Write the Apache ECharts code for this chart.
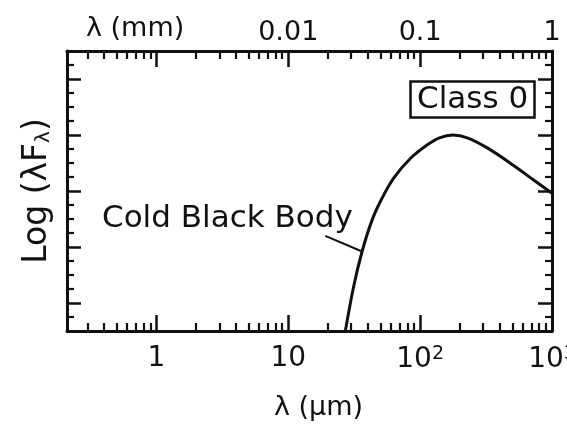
<!DOCTYPE html>
<html>
<head>
<meta charset="utf-8">
<script src="https://cdn.jsdelivr.net/npm/echarts@6/dist/echarts.min.js"></script>
<style>
html,body{margin:0;padding:0;background:#fff;}
#chart{width:567px;height:427px;}
</style>
</head>
<body>
<div id="chart"></div>
<script>
// ---- data ----
const lambdaMicron = [27.1, 31.3, 36.3, 43.2, 51.4, 63.0, 84.3, 112.8, 140, 178, 228, 323, 509, 721, 1000];
const logLambdaF   = [-0.5, 0.29, 0.92, 1.48, 1.87, 2.23, 2.58, 2.82, 2.95, 3.0, 2.95, 2.77, 2.46, 2.20, 1.96];

const xMinMicron = 0.21;
const xMaxMicron = 1000;
const yMin = -0.5;
const yMax = 4.5;

const bottomTickValues = [1, 10, 100, 1000];
const bottomTickLabels = ['1', '10', '10{sup|2}', '10{sup|3}'];
const topTickValues = [0.01, 0.1, 1];
const topTickLabels = ['0.01', '0.1', '1'];
const yMajorTicks = [0, 1, 2, 3, 4];
const yMinorTicks = [-0.25, 0.25, 0.5, 0.75, 1.25, 1.5, 1.75, 2.25, 2.5, 2.75, 3.25, 3.5, 3.75, 4.25];

const leaderStart = [19.1, 1.2];
const leaderEnd = [36.3, 0.92];

const curveName = 'Cold Black Body';
const classLabel = 'Class 0';

// ---- axis tick helpers ----
function decadeMajors(lo, hi) {
  const out = [];
  for (let e = -6; e <= 6; e++) {
    const v = Math.pow(10, e);
    if (v >= lo * 0.999 && v <= hi * 1.001) out.push(v);
  }
  return out;
}
function decadeMinors(lo, hi) {
  const out = [];
  for (let e = -6; e <= 6; e++) {
    for (let m = 2; m <= 9; m++) {
      const v = m * Math.pow(10, e);
      if (v >= lo && v <= hi) out.push(v);
    }
  }
  return out;
}

const INK = '#111111';
const FONT = 'DejaVu Sans';

const chart = echarts.init(document.getElementById('chart'), null, {renderer: 'canvas'});

const lineData = lambdaMicron.map((l, i) => [l, logLambdaF[i]]);

function xAx(opts) {
  const base = {
    type: 'log', logBase: 10, gridIndex: 0,
    splitLine: {show: false},
    axisLabel: {show: false},
    axisTick: {show: false}
  };
  const o = Object.assign(base, opts);
  o.axisLine = Object.assign({show: false, onZero: false}, opts.axisLine || {});
  o.axisLine.onZero = false;
  return o;
}
function yAx(opts) {
  const base = {
    type: 'value', gridIndex: 0, min: yMin, max: yMax,
    splitLine: {show: false},
    axisLabel: {show: false},
    axisTick: {show: false}
  };
  const o = Object.assign(base, opts);
  o.axisLine = Object.assign({show: false, onZero: false}, opts.axisLine || {});
  o.axisLine.onZero = false;
  return o;
}

const option = {
  backgroundColor: '#ffffff',
  animation: false,
  textStyle: {fontFamily: FONT, color: INK},
  grid: {left: 67, right: 15, top: 51, bottom: 96, containLabel: false, outerBoundsMode: 'none'},
  title: [
    {text: 'λ (mm)', left: 86, top: 15, padding: 0,
     textStyle: {fontFamily: FONT, fontSize: 27, fontWeight: 'normal', color: INK}},
    {text: curveName, left: 102, top: 203, padding: 0,
     textStyle: {fontFamily: FONT, fontSize: 31, fontWeight: 'normal', color: INK}},
    {text: classLabel, left: 410, top: 81, padding: [3, 7, 2, 7],
     borderColor: INK, borderWidth: 2.5,
     textStyle: {fontFamily: FONT, fontSize: 31, lineHeight: 32, fontWeight: 'normal', color: INK}}
  ],
  xAxis: [
    xAx({
      position: 'bottom', min: xMinMicron, max: xMaxMicron,
      name: 'λ (µm)', nameLocation: 'middle', nameGap: 63,
      nameTextStyle: {fontFamily: FONT, fontSize: 27, color: INK, padding: [0, 0, 0, 18]},
      axisLine: {show: true, lineStyle: {color: INK, width: 3}},
      axisTick: {show: true, inside: true, length: 16, lineStyle: {color: INK, width: 2.5},
                 customValues: decadeMajors(xMinMicron, xMaxMicron)},
      axisLabel: {show: true, margin: 14, fontFamily: FONT, fontSize: 28, color: INK,
                  customValues: bottomTickValues,
                  formatter: function (v) {
                    let best = 0;
                    bottomTickValues.forEach((t, i) => { if (Math.abs(Math.log10(t / v)) < 1e-6) best = i; });
                    return bottomTickLabels[best];
                  },
                  rich: {sup: {fontFamily: FONT, fontSize: 19, color: INK, verticalAlign: 'top', padding: [0, 0, 10, 0]}}}
    }),
    xAx({
      position: 'bottom', min: xMinMicron, max: xMaxMicron,
      axisTick: {show: true, inside: true, length: 8, lineStyle: {color: INK, width: 2.2},
                 customValues: decadeMinors(xMinMicron, xMaxMicron)}
    }),
    xAx({
      position: 'top', min: xMinMicron / 1000, max: xMaxMicron / 1000,
      axisLine: {show: true, lineStyle: {color: INK, width: 3}},
      axisTick: {show: true, inside: true, length: 16, lineStyle: {color: INK, width: 2.5},
                 customValues: decadeMajors(xMinMicron / 1000, xMaxMicron / 1000)},
      axisLabel: {show: true, margin: 5, fontFamily: FONT, fontSize: 27, color: INK,
                  customValues: topTickValues,
                  formatter: function (v) {
                    let best = 0;
                    topTickValues.forEach((t, i) => { if (Math.abs(Math.log10(t / v)) < 1e-6) best = i; });
                    return topTickLabels[best];
                  }}
    }),
    xAx({
      position: 'top', min: xMinMicron / 1000, max: xMaxMicron / 1000,
      axisTick: {show: true, inside: true, length: 8, lineStyle: {color: INK, width: 2.2},
                 customValues: decadeMinors(xMinMicron / 1000, xMaxMicron / 1000)}
    })
  ],
  yAxis: [
    yAx({
      position: 'left',
      name: 'Log (λF{sub|λ})', nameLocation: 'middle', nameGap: 13, nameRotate: 90,
      nameTextStyle: {fontFamily: FONT, fontSize: 33, color: INK,
                      rich: {sub: {fontFamily: FONT, fontSize: 20, color: INK, verticalAlign: 'bottom'}}},
      axisLine: {show: true, lineStyle: {color: INK, width: 3}},
      axisTick: {show: true, inside: true, length: 14, lineStyle: {color: INK, width: 2.5},
                 customValues: yMajorTicks}
    }),
    yAx({
      position: 'left',
      axisTick: {show: true, inside: true, length: 7, lineStyle: {color: INK, width: 2.2},
                 customValues: yMinorTicks}
    }),
    yAx({
      position: 'right',
      axisLine: {show: true, lineStyle: {color: INK, width: 3}},
      axisTick: {show: true, inside: true, length: 14, lineStyle: {color: INK, width: 2.5},
                 customValues: yMajorTicks}
    }),
    yAx({
      position: 'right',
      axisTick: {show: true, inside: true, length: 7, lineStyle: {color: INK, width: 2.2},
                 customValues: yMinorTicks}
    })
  ],
  series: [{
    name: curveName,
    type: 'line',
    xAxisIndex: 0, yAxisIndex: 0,
    data: lineData,
    showSymbol: false,
    smooth: 0.35,
    clip: true,
    lineStyle: {color: INK, width: 3},
    markLine: {
      silent: true, symbol: ['none', 'none'], label: {show: false},
      lineStyle: {color: INK, width: 2, type: 'solid'},
      data: [[{coord: leaderStart}, {coord: leaderEnd}]]
    }
  }]
};
chart.setOption(option);
</script>
</body>
</html>
